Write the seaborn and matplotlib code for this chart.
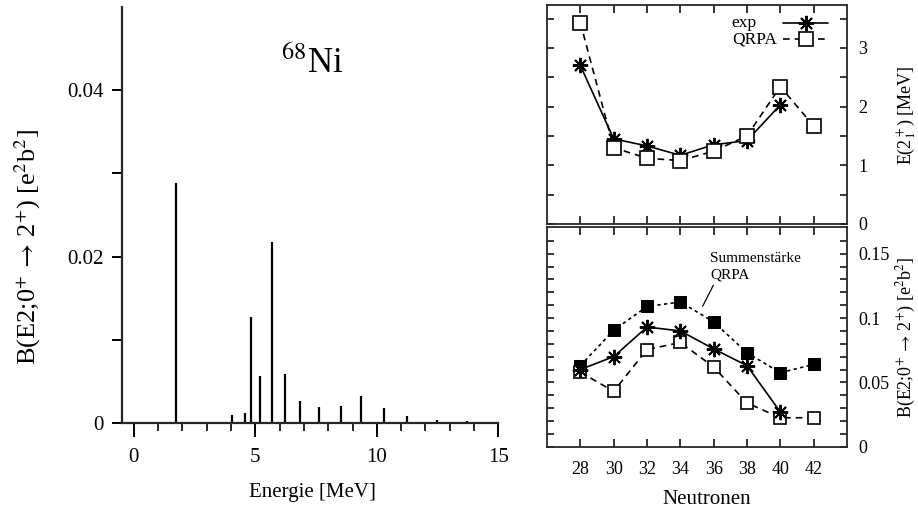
import numpy as np
import pandas as pd
import matplotlib
matplotlib.use("Agg")
import matplotlib.pyplot as plt
import seaborn as sns

# ---------------- data ----------------
energy = [1.74, 4.04, 4.56, 4.82, 5.18, 5.70, 6.23, 6.85, 7.60, 8.52, 9.36, 10.30, 11.26, 12.49, 13.70]
strength = [0.0288, 0.0010, 0.0012, 0.0127, 0.0056, 0.0218, 0.0059, 0.0027, 0.0019, 0.0020,
            0.0033, 0.0018, 0.0009, 0.0004, 0.0003]

neutrons = [28, 30, 32, 34, 36, 38, 40, 42]
e2_exp = [2.70, 1.45, 1.33, 1.17, 1.35, 1.42, 2.03]
e2_qrpa = [3.43, 1.30, 1.12, 1.08, 1.24, 1.50, 2.34, 1.67]
be2_exp = [0.060, 0.070, 0.093, 0.090, 0.076, 0.063, 0.027]
be2_qrpa = [0.058, 0.043, 0.0755, 0.081, 0.062, 0.034, 0.0225, 0.0225]
be2_sum = [0.063, 0.0905, 0.109, 0.1125, 0.097, 0.073, 0.0575, 0.064]
legend_labels = ["exp", "QRPA"]

# ---------------- style ----------------
sns.set_theme(style="ticks")
plt.rcParams["font.family"] = ["Liberation Serif", "DejaVu Serif"]
plt.rcParams["mathtext.fontset"] = "stix"
plt.rcParams["axes.linewidth"] = 1.3
plt.rcParams["text.color"] = "black"
plt.rcParams["axes.labelcolor"] = "black"
plt.rcParams["xtick.color"] = "black"
plt.rcParams["ytick.color"] = "black"

W, H = 918, 514
fig = plt.figure(figsize=(W / 100, H / 100), dpi=100)


def px_axes(l, t, r, b):
    return fig.add_axes([l / W, 1 - b / H, (r - l) / W, (b - t) / H])


BE2_LABEL = r"B(E2;0$^{+}\,\rightarrow\,$2$^{+}$) [e$^{2}$b$^{2}$]"
STAR = dict(marker=(8, 2, 0), markersize=11, markeredgewidth=1.4, markeredgecolor="black")
OPEN_SQ = dict(marker="s", markersize=10, markerfacecolor="white", markeredgecolor="black",
               markeredgewidth=1.2)

# ---------------- left panel ----------------
ax = px_axes(121.7, 7, 498.3, 423)
ax.vlines(energy, 0, strength, color="black", linewidth=1.6)
ax.set_xlim(-0.5, 15)
ax.set_ylim(0, 0.05)
for s in ["top", "right"]:
    ax.spines[s].set_visible(False)
ax.spines["left"].set_linewidth(1.6)
ax.spines["bottom"].set_linewidth(1.6)
ax.set_xticks([0, 5, 10, 15])
ax.set_xticklabels(["0", "5", "10", "15"])
ax.set_xticks(np.arange(0, 16, 1), minor=True)
ax.set_yticks([0, 0.02, 0.04])
ax.set_yticklabels(["0", "0.02", "0.04"])
ax.set_yticks([0.01, 0.03], minor=True)
ax.tick_params(axis="x", which="major", direction="out", length=10, width=1.4, labelsize=15, pad=8)
ax.tick_params(axis="x", which="minor", direction="out", length=6, width=1.2)
ax.tick_params(axis="y", which="both", direction="out", length=7, width=1.4, labelsize=15, pad=6)
ax.text(7.35, 0.0432, r"$^{68}$Ni", fontsize=25, ha="center", va="center")

fig.text(27.5 / W, 1 - 247 / H, BE2_LABEL,
         rotation=90, ha="center", va="center", fontsize=19)
fig.text(312 / W, 1 - 493 / H, "Energie [MeV]", ha="center", va="center", fontsize=15)

# ---------------- right top ----------------
ax1 = px_axes(547, 5, 847, 224)
df_e_exp = pd.DataFrame({"N": neutrons[:len(e2_exp)], "E": e2_exp})
df_e_qrpa = pd.DataFrame({"N": neutrons, "E": e2_qrpa})
sns.lineplot(data=df_e_exp, x="N", y="E", ax=ax1, color="black", linewidth=1.2, **STAR)
sns.lineplot(data=df_e_qrpa, x="N", y="E", ax=ax1, color="black", linewidth=1.2,
             linestyle=(0, (4, 3)), **OPEN_SQ)
sns.scatterplot(data=df_e_qrpa, x="N", y="E", ax=ax1, color="black", s=1.5, linewidth=0, legend=False)
ax1.set_xlim(26, 44)
ax1.set_ylim(0, 3.73)
ax1.set_xticks(neutrons)
ax1.set_yticks([0, 1, 2, 3])
ax1.set_yticks(np.arange(0.5, 3.6, 1.0), minor=True)
ax1.tick_params(axis="x", which="both", direction="in", top=True, bottom=True,
                labelbottom=False, length=6, width=1.1)
ax1.tick_params(axis="y", which="both", direction="in", left=True, right=True,
                labelleft=False, labelright=True, length=5, width=1.1, labelsize=13, pad=8)
ax1.set_xlabel("")
ax1.set_ylabel("")

# gnuplot-style key: label left-aligned, sample to its right
key_styles = [dict(linestyle="-", **STAR), dict(linestyle=(0, (4, 3)), **OPEN_SQ)]
for i, (lab, st) in enumerate(zip(legend_labels, key_styles)):
    yk = 0.919 - i * 0.076
    ax1.text(0.616, yk, lab, transform=ax1.transAxes, ha="left", va="center", fontsize=12.5)
    ax1.plot([0.787, 0.937], [yk, yk], transform=ax1.transAxes, color="black", linewidth=1.2,
             linestyle=st["linestyle"], marker="None", clip_on=False)
    ms = {k: v for k, v in st.items() if k != "linestyle"}
    ax1.plot([0.862], [yk], transform=ax1.transAxes, color="black", linestyle="None",
             clip_on=False, **ms)

fig.text(906.7 / W, 1 - 115 / H, r"E(2$_1^+$) [MeV]", rotation=90, ha="center", va="center",
         fontsize=13)

# ---------------- right bottom ----------------
ax2 = px_axes(547, 226.7, 847, 446.7)
df_b_exp = pd.DataFrame({"N": neutrons[:len(be2_exp)], "B": be2_exp})
df_b_qrpa = pd.DataFrame({"N": neutrons, "B": be2_qrpa})
df_b_sum = pd.DataFrame({"N": neutrons, "B": be2_sum})
sns.lineplot(data=df_b_sum, x="N", y="B", ax=ax2, color="black", linewidth=1.2,
             linestyle=(0, (2, 2)), marker="s", markersize=9, markerfacecolor="black",
             markeredgecolor="black")
sns.lineplot(data=df_b_qrpa, x="N", y="B", ax=ax2, color="black", linewidth=1.2,
             linestyle=(0, (4, 3)), marker="s", markersize=9, markerfacecolor="white",
             markeredgecolor="black", markeredgewidth=1.2)
sns.scatterplot(data=df_b_qrpa, x="N", y="B", ax=ax2, color="black", s=1.5, linewidth=0, legend=False)
sns.lineplot(data=df_b_exp, x="N", y="B", ax=ax2, color="black", linewidth=1.2, **STAR)
ax2.set_xlim(26, 44)
ax2.set_ylim(0, 0.171)
ax2.set_xticks(neutrons)
ax2.set_xticklabels([str(n) for n in neutrons])
ax2.set_yticks([0, 0.05, 0.1, 0.15])
ax2.set_yticklabels(["0", "0.05", "0.1", "0.15"])
ax2.set_yticks(np.arange(0.01, 0.17, 0.01), minor=True)
ax2.tick_params(axis="x", which="both", direction="in", top=True, bottom=True,
                length=6, width=1.1, labelsize=13, pad=10)
ax2.tick_params(axis="y", which="both", direction="in", left=True, right=True,
                labelleft=False, labelright=True, length=5, width=1.1, labelsize=13, pad=8)
ax2.set_xlabel("")
ax2.set_ylabel("")
ax2.text(35.78, 0.1395, "Summenstärke\nQRPA", ha="left", va="center", fontsize=11, linespacing=1.35)
ax2.plot([35.98, 35.34], [0.1255, 0.1092], color="black", linewidth=0.9)

fig.text(906 / W, 1 - 337 / H, BE2_LABEL, rotation=90,
         ha="center", va="center", fontsize=13)
fig.text(707 / W, 1 - 500 / H, "Neutronen", ha="center", va="center", fontsize=15)

fig.savefig("out.png", dpi=100)
